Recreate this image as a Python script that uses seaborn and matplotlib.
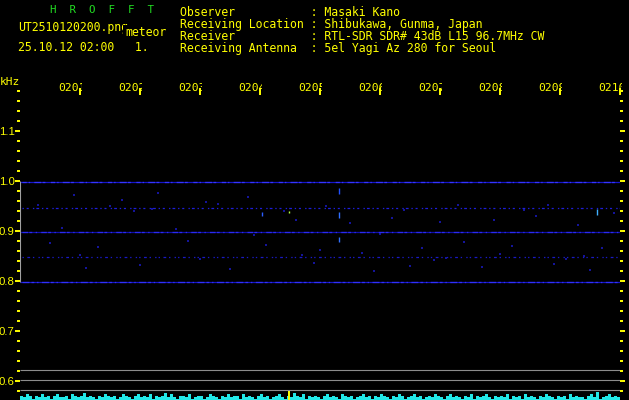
import matplotlib
matplotlib.use('Agg')
import matplotlib.pyplot as plt
import seaborn as sns
import pandas as pd
from matplotlib.transforms import Bbox

W, H = 629, 400
YELLOW = '#ffff00'
GREEN = '#22dd22'
MONO = 'DejaVu Sans Mono'

# header text
title_letters = 'H  R  O  F  F  T'
file_name = 'UT2510120200.png'
file_kind = 'meteor'
file_date = '25.10.12 02:00   1.'
meta_labels = ['Observer', 'Receiving Location', 'Receiver', 'Receiving Antenna']
meta_values = ['Masaki Kano', 'Shibukawa, Gunma, Japan',
               'RTL-SDR SDR# 43dB L15 96.7MHz CW', '5el Yagi Az 280 for Seoul']

# axes
minutes = [1, 2, 3, 4, 5, 6, 7, 8, 9, 10]
minute_labels = ['0201', '0202', '0203', '0204', '0205',
                 '0206', '0207', '0208', '0209', '0210']
khz_major = [0.6, 0.7, 0.8, 0.9, 1.0, 1.1]
khz_minor = [0.58, 0.62, 0.64, 0.66, 0.68, 0.72, 0.74, 0.76, 0.78, 0.82, 0.84,
             0.86, 0.88, 0.92, 0.94, 0.96, 0.98, 1.02, 1.04, 1.06, 1.08, 1.12,
             1.14, 1.16, 1.18]

# carrier traces (kHz) and their strength
carrier_khz = [0.998, 0.946, 0.898, 0.848, 0.798]
carrier_base = ['#1616c8', None, '#1010a8', None, '#1616c4']
carrier_hi = ['#3434ff', '#1e1ed8', '#2a2af0', '#1a1ac4', '#3030fa']

# scattered weak returns (minute, kHz)
specks = [(0.9, 0.972), (1.7, 0.962), (2.3, 0.975), (3.1, 0.958), (3.8, 0.968),
          (4.6, 0.921), (5.5, 0.915), (6.2, 0.925), (7.0, 0.918), (7.9, 0.922),
          (8.6, 0.930), (9.3, 0.912), (0.5, 0.875), (1.3, 0.868), (2.8, 0.880),
          (4.1, 0.872), (5.0, 0.862), (6.7, 0.866), (7.4, 0.878), (8.2, 0.870),
          (9.7, 0.865), (1.1, 0.826), (2.0, 0.832), (3.5, 0.824), (4.9, 0.835),
          (5.9, 0.820), (6.5, 0.829), (7.7, 0.827), (8.9, 0.833), (9.5, 0.822),
          (0.3, 0.952), (1.9, 0.940), (3.3, 0.953), (4.4, 0.939), (5.7, 0.855),
          (6.9, 0.842), (8.0, 0.853), (9.1, 0.843), (2.6, 0.904), (6.0, 0.893),
          (7.3, 0.951), (8.4, 0.942), (9.9, 0.936), (0.7, 0.905), (3.9, 0.892),
          (1.5, 0.950), (2.2, 0.943), (5.1, 0.949), (6.4, 0.941), (8.8, 0.951),
          (1.0, 0.851), (3.0, 0.844), (4.7, 0.852), (7.1, 0.845), (9.4, 0.850)]

# meteor echoes: minute, kHz top, kHz bottom, colour
echo_t = [5.32, 5.32, 5.32, 9.62, 4.03, 4.48]
echo_top = [0.986, 0.938, 0.888, 0.943, 0.937, 0.939]
echo_bot = [0.974, 0.926, 0.878, 0.932, 0.929, 0.935]
echo_col = ['#2050ff', '#3070ff', '#3070ff', '#40b0ff', '#2a5cff', '#b0ff40']

# noise level strip at the bottom (relative units)
noise_level = [
    3, 2, 4, 3, 1, 3, 2, 4, 2, 3, 1, 3, 4, 2, 2, 3, 1, 4, 3, 2,
    3, 5, 2, 3, 2, 1, 3, 2, 4, 3, 2, 3, 1, 2, 4, 3, 2, 1, 3, 4,
    2, 3, 2, 4, 1, 3, 2, 3, 5, 2, 4, 2, 1, 3, 3, 2, 4, 1, 2, 3,
    3, 1, 2, 4, 3, 2, 1, 3, 2, 4, 2, 3, 3, 1, 4, 2, 3, 2, 1, 3,
    4, 2, 3, 1, 2, 3, 4, 2, 1, 3, 2, 5, 3, 2, 4, 1, 3, 2, 3, 2,
    1, 3, 4, 2, 3, 2, 1, 4, 3, 2, 3, 1, 2, 3, 4, 2, 3, 1, 3, 2,
    4, 3, 2, 1, 3, 2, 4, 3, 1, 2, 3, 4, 2, 3, 1, 2, 3, 2, 4, 3,
    2, 1, 3, 4, 2, 3, 2, 1, 3, 2, 4, 1, 3, 2, 3, 4, 2, 1, 3, 2,
    3, 2, 4, 1, 3, 2, 3, 1, 4, 2, 3, 2, 1, 3, 2, 4, 3, 2, 1, 3,
    2, 3, 1, 4, 2, 3, 2, 2, 1, 3, 4, 2, 6, 1, 2, 3, 4, 2, 3, 2]
noise_unit = 0.0028
marker_minute = 4.48
guide_khz = [0.622, 0.602, 0.582]

sns.set_theme(style='dark')
plt.rcParams['lines.scale_dashes'] = False
plt.rcParams['font.family'] = [MONO, 'DejaVu Sans']

fig = plt.figure(figsize=(W / 100, H / 100), dpi=100, facecolor='black')
ax = fig.add_axes([20 / W, 0, 600 / W, 312 / H])
ax.set_facecolor('black')
ax.grid(False)
for s in ax.spines.values():
    s.set_visible(False)
ax.set_xlim(0, 10)
ax.set_ylim(0.562, 1.186)

# carriers
dash_sets = [(0, (3, 1.5, 1, 3, 5, 1, 2, 4)), (0, (1, 2, 1.5, 3, 1, 1.5, 2, 2)),
             (0, (4, 1, 2, 2.5, 1, 3)), (0, (1, 2.5, 2, 2, 1, 3, 1, 1.5)),
             (0, (5, 1.5, 2, 2, 1, 2.5))]
for k, c_base, c_hi, ds in zip(carrier_khz, carrier_base, carrier_hi, dash_sets):
    if c_base:
        ax.plot([0, 10], [k, k], color=c_base, lw=0.9, solid_capstyle='butt')
    ax.plot([0.03, 10], [k, k], color=c_hi, lw=0.9, linestyle=ds)

spk = pd.DataFrame(specks, columns=['minute', 'khz'])
sns.scatterplot(data=spk, x='minute', y='khz', ax=ax, marker='s', s=0.7,
                color='#14149a', linewidth=0, legend=False)

ax.vlines(echo_t, echo_bot, echo_top, colors=echo_col, lw=1.0)

# side line, guide lines, noise strip
ax.vlines([0], [carrier_khz[-1]], [1.0], colors='#a0a0a0', lw=0.8)
ax.hlines(guide_khz, 0, 10, colors='#8c8c8c', lw=0.8)
bar_w = 10 / len(noise_level)
bar_x = [bar_w * (i + 0.5) for i in range(len(noise_level))]
ax.bar(bar_x, [v * noise_unit for v in noise_level], width=bar_w * 0.85,
       bottom=0.562, color='#22e8e8', linewidth=0)
ax.vlines([marker_minute], 0.562, guide_khz[-1] - 0.002, colors=YELLOW, lw=1.4)

# ticks
ax.set_yticks(khz_major)
ax.set_yticklabels([f'{v:.1f}' for v in khz_major])
ax.set_yticks(khz_minor, minor=True)
ax.tick_params(axis='y', which='both', left=True, right=True, direction='out',
               colors=YELLOW, labelcolor=YELLOW, pad=0.3, width=1.4, labelsize=8.2)
ax.tick_params(axis='y', which='major', length=3.4)
ax.tick_params(axis='y', which='minor', length=2.2)
for lbl in ax.get_yticklabels():
    lbl.set_fontfamily('Liberation Sans')
ax.set_xticks(minutes)
ax.set_xticklabels([])
ax.tick_params(axis='x', which='both', bottom=False, top=True, direction='in',
               length=5, width=1.4, colors=YELLOW, labeltop=False, labelbottom=False)


def put(x, y, s, color=YELLOW, size=8.3, **kw):
    return fig.text(x / W, 1 - y / H, s, color=color, family=MONO, fontsize=size,
                    va='baseline', ha='left', **kw)


put(50.5, 12.7, title_letters, color=GREEN, size=7.8)
put(18.5, 31, file_name, zorder=3)
put(125, 36.5, file_kind, zorder=5,
    bbox=dict(facecolor='black', edgecolor='none', pad=1.2))
put(18.5, 51, file_date)
for i, (lab, val) in enumerate(zip(meta_labels, meta_values)):
    put(179.5, 16.3 + 11.9 * i, f'{lab:<18} : {val}')
put(0, 85, 'kHz', size=8)

fig.canvas.draw()
for m, lab in zip(minutes, minute_labels):
    tx = ax.transData.transform((m, 0))[0]
    t = put(tx - 22, 90.7, lab, size=8.2)
    t.set_clip_box(Bbox([[0, 0], [tx + 1.5, H]]))
    t.set_clip_on(True)

fig.savefig('out.png', dpi=100, facecolor='black')
